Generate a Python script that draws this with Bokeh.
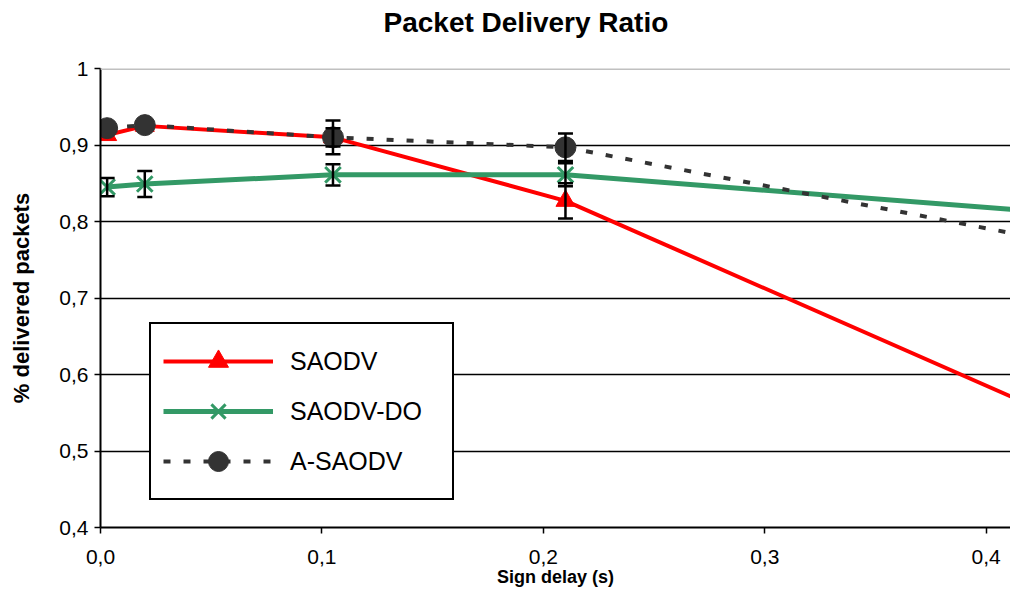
from bokeh.plotting import figure
from bokeh.models import (ColumnDataSource, FixedTicker, Span, Whisker, Legend,
                          LegendItem, Range1d, TeeHead)
from bokeh.embed import file_html
from bokeh.resources import INLINE

# ---- data ----
sign_delay = [0.003, 0.020, 0.105, 0.210, 0.420]

saodv = [0.913, 0.925, 0.910, 0.827, 0.560]
saodv_err = [0.0, 0.0, 0.012, 0.023, 0.031]

saodv_do = [0.845, 0.849, 0.861, 0.861, 0.814]
saodv_do_err = [0.012, 0.017, 0.014, 0.015, 0.015]

a_saodv = [0.922, 0.926, 0.910, 0.897, 0.780]
a_saodv_err = [0.0, 0.0, 0.022, 0.018, 0.020]

series_names = ["SAODV", "SAODV-DO", "A-SAODV"]

y_ticks = [0.4, 0.5, 0.6, 0.7, 0.8, 0.9, 1.0]
y_tick_labels = ["0,4", "0,5", "0,6", "0,7", "0,8", "0,9", "1"]
x_ticks = [0.0, 0.1, 0.2, 0.3, 0.4]
x_tick_labels = ["0,0", "0,1", "0,2", "0,3", "0,4"]

title_text = "Packet Delivery Ratio"

FONT = "Liberation Sans"

p = figure(width=1010, height=595, output_backend="svg", toolbar_location=None,
           x_range=Range1d(0, 0.411), y_range=Range1d(0.4, 1.0),
           min_border_left=100, min_border_right=0, min_border_top=68,
           min_border_bottom=68, background_fill_color="white",
           border_fill_color="white")
p.outline_line_color = None

# title: an empty second line lifts the text away from the frame
p.title.text = title_text + "\n "
p.title.text_font = FONT
p.title.text_font_style = "bold"
p.title.text_font_size = "28px"
p.title.text_line_height = 1.0
p.title.text_color = "black"
p.title.align = "left"
p.title.offset = 283
p.title.standoff = 0

# grid
p.xgrid.visible = False
p.ygrid.ticker = FixedTicker(ticks=y_ticks[1:-1])
p.ygrid.grid_line_color = "black"
p.ygrid.grid_line_width = 1.5
p.add_layout(Span(location=y_ticks[-1], dimension="width", line_color="#c0c0c0",
                  line_width=3))

# axes
for ax in (p.xaxis[0], p.yaxis[0]):
    ax.axis_line_color = "black"
    ax.axis_line_width = 2
    ax.major_tick_line_color = "black"
    ax.major_tick_line_width = 1.5
    ax.major_tick_out = 6
    ax.major_tick_in = 0
    ax.minor_tick_line_color = None
    ax.major_label_text_font = FONT
    ax.major_label_text_font_size = "21px"
    ax.major_label_text_color = "black"
    ax.axis_label_text_font = FONT
    ax.axis_label_text_font_style = "bold"
    ax.axis_label_text_color = "black"

p.yaxis.ticker = FixedTicker(ticks=y_ticks)
p.yaxis.major_label_overrides = dict(zip(y_ticks, y_tick_labels))
p.yaxis.axis_label = "% delivered packets"
p.yaxis.axis_label_text_font_size = "22px"
p.yaxis.axis_label_standoff = 22
p.yaxis.major_label_standoff = 6

p.xaxis.ticker = FixedTicker(ticks=x_ticks)
p.xaxis.major_label_overrides = dict(zip(x_ticks, x_tick_labels))
p.xaxis.axis_label = "Sign delay (s)"
p.xaxis.axis_label_text_font_size = "18px"
p.xaxis.axis_label_standoff = 0
p.xaxis.major_label_standoff = 16

RED = "#ff0000"
GREEN = "#339966"
DARK = "#333333"

# lines + markers
l1 = p.line(sign_delay, saodv, line_color=RED, line_width=4)
m1 = p.scatter(sign_delay, saodv, marker="triangle", size=19, fill_color=RED,
               line_color=RED)
l2 = p.line(sign_delay, saodv_do, line_color=GREEN, line_width=5)
m2 = p.scatter(sign_delay, saodv_do, marker="x", size=22, line_color=GREEN,
               line_width=3)
l3 = p.line(sign_delay, a_saodv, line_color=DARK, line_width=4, line_dash="7 13")
m3 = p.scatter(sign_delay, a_saodv, marker="circle", size=21, fill_color=DARK,
               line_color=DARK)

# error bars
for vals, errs in ((saodv, saodv_err), (saodv_do, saodv_do_err), (a_saodv, a_saodv_err)):
    xs = [x for x, e in zip(sign_delay, errs) if e > 0]
    lo = [v - e for v, e in zip(vals, errs) if e > 0]
    hi = [v + e for v, e in zip(vals, errs) if e > 0]
    src = ColumnDataSource(dict(x=xs, lower=lo, upper=hi))
    w = Whisker(source=src, base="x", lower="lower", upper="upper",
                dimension="height", line_color="black", line_width=2.5,
                upper_head=TeeHead(size=15, line_color="black", line_width=2.5),
                lower_head=TeeHead(size=15, line_color="black", line_width=2.5),
                level="annotation")
    p.add_layout(w)

legend = Legend(items=[LegendItem(label=series_names[0], renderers=[l1, m1]),
                       LegendItem(label=series_names[1], renderers=[l2, m2]),
                       LegendItem(label=series_names[2], renderers=[l3, m3])],
                location=(49, 27), orientation="vertical",
                glyph_width=110, glyph_height=50, label_height=50,
                spacing=0, padding=12, label_standoff=17, label_width=150,
                margin=0,
                label_text_font=FONT, label_text_font_size="25px",
                label_text_color="black",
                border_line_color="black", border_line_width=2,
                border_line_alpha=1.0,
                background_fill_color="white", background_fill_alpha=1.0)
p.add_layout(legend)

open("out.html", "w").write(file_html(p, INLINE))
